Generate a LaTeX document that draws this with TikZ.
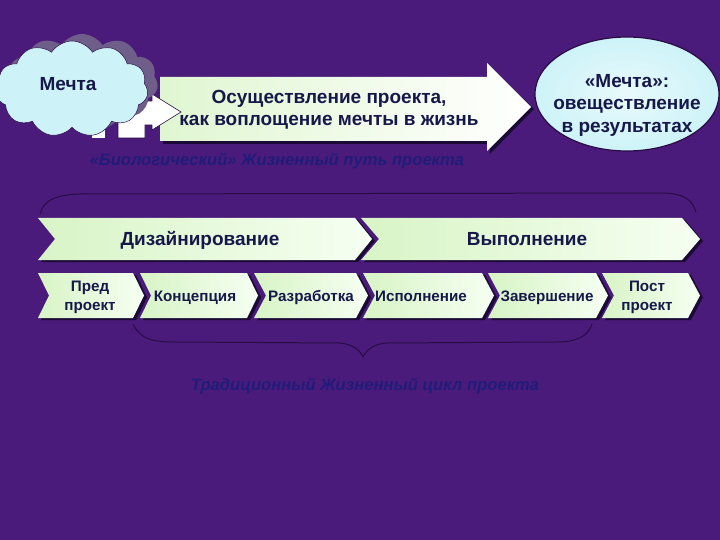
\documentclass[tikz,border=0pt]{standalone}
\usepackage{fontspec}
\setmainfont{Liberation Sans}
\usetikzlibrary{shapes.symbols,shapes.geometric}
\definecolor{bgpurple}{HTML}{4A1B7A}
\definecolor{navy}{HTML}{16184A}
\definecolor{labelblue}{HTML}{201C7A}
\definecolor{chevL}{HTML}{D8F4C6}
\definecolor{chevR}{HTML}{F6FFF2}
\definecolor{shadedark}{HTML}{1C0A36}
\definecolor{cloudfill}{HTML}{CDF3F8}
\definecolor{cloudshadow}{HTML}{705E8A}
\definecolor{braceline}{HTML}{2A0C45}
\newcommand\chevron[5]{%
  \fill[shadedark] ({#1+3},{#3+2}) -- ({#2+3},{#3+2}) -- ({#2+#5+3},{(#3+#4)/2+2}) -- ({#2+3},{#4+2}) -- ({#1+3},{#4+2}) -- ({#1+#5+3},{(#3+#4)/2+2}) -- cycle;
  \shade[left color=chevL,right color=chevR] (#1,#3) -- (#2,#3) -- ({#2+#5},{(#3+#4)/2}) -- (#2,#4) -- (#1,#4) -- ({#1+#5},{(#3+#4)/2}) -- cycle;
}
\tikzset{
  boldtxt/.style={text=navy,font=\bfseries\fontsize{19}{22.5}\selectfont,align=center,inner sep=0pt},
  onetxt/.style={text=navy,font=\bfseries\fontsize{19}{22}\selectfont,inner sep=0pt,text height=0.72em,text depth=0.2em},
  smalltxt/.style={text=navy,font=\bfseries\fontsize{15.2}{19}\selectfont,align=center,inner sep=0pt},
  smallone/.style={text=navy,font=\bfseries\fontsize{15.2}{19}\selectfont,inner sep=0pt,text height=0.72em,text depth=0.2em},
  italtxt/.style={text=labelblue,font=\bfseries\itshape\fontsize{16.6}{18}\selectfont,inner sep=0pt,text height=0.72em,text depth=0.2em},
  bracestyle/.style={draw=braceline,line width=1pt}
}
\begin{document}
\begin{tikzpicture}[x=1pt,y=-1pt]
\useasboundingbox (0,0) rectangle (720,540);
\fill[bgpurple] (0,0) rectangle (720,540);

% big arrow
\fill[shadedark] (163,80) -- (490,80) -- (490,66) -- (534,109) -- (490,154) -- (490,144) -- (163,144) -- cycle;
\shade[left color=chevL!80!white,right color=white] (160,77) -- (487,77) -- (487,63) -- (531,107) -- (487,151) -- (487,141) -- (160,141) -- cycle;
\node[boldtxt] (arrtxt) at (329,110) {Осуществление проекта,\\как воплощение мечты в жизнь};

% small striped arrow
\filldraw[fill=white,draw=braceline,line width=0.6pt] (118,101) -- (152,101) -- (152,94) -- (181,112) -- (152,130) -- (152,125) -- (145,125) -- (145,138) -- (118,138) -- cycle;
\fill[white] (92,123) rectangle (105,138);

% cloud
\node[cloud, cloud puffs=11, cloud puff arc=115, cloud ignores aspect, minimum width=152pt, minimum height=96pt, fill=cloudshadow, inner sep=0pt] (cloudsh) at (82,82) {};
\node[cloud, cloud puffs=11, cloud puff arc=115, cloud ignores aspect, minimum width=152pt, minimum height=96pt, fill=cloudfill, draw=braceline, line width=0.5pt, inner sep=0pt] (cloud) at (72,89) {};
\node[onetxt] (dream) at (68,88) {Мечта};

% ellipse
\node[ellipse, minimum width=184pt, minimum height=114pt, inner color=white!55!cloudfill, outer color=cloudfill, draw=braceline, line width=1.2pt] (result) at (627,94) {};
\node[boldtxt] (resulttxt) at (627,105) {«Мечта»:\\овеществление\\в результатах};

% label 1
\node[italtxt] (bio) at (277,163) {«Биологический» Жизненный путь проекта};

% top brace
\draw[bracestyle] (40,214) .. controls (44,200) and (55,195) .. (80,194) -- (660,193) .. controls (685,193) and (692,200) .. (696,212);

% row 1
\chevron{38}{355}{218}{260}{17}
\chevron{361}{682}{218}{260}{18}
\node[onetxt] (design) at (200,243) {Дизайнирование};
\node[onetxt] (exec) at (527,243) {Выполнение};

% row 2
\chevron{38}{133}{273}{318}{11}
\chevron{140}{247}{273}{318}{11}
\chevron{254}{356}{273}{318}{12}
\chevron{363}{482}{273}{318}{12}
\chevron{488}{596}{273}{318}{12}
\chevron{602}{688}{273}{318}{12}
\node[smalltxt] (pre) at (90,297) {Пред\\проект};
\node[smallone] (concept) at (195,299) {Концепция};
\node[smallone] (dev) at (311,299) {Разработка};
\node[smallone] (impl) at (421,299) {Исполнение};
\node[smallone] (fin) at (547,299) {Завершение};
\node[smalltxt] (post) at (647,297) {Пост\\проект};

% bottom brace
\draw[bracestyle] (133,324) .. controls (140,338) and (150,342) .. (175,342) -- (340,343) .. controls (352,344) and (360,350) .. (363,357) .. controls (366,350) and (374,344) .. (386,343) -- (555,342) .. controls (578,342) and (588,336) .. (592,324);

% label 2
\node[italtxt] (trad) at (365,388) {Традиционный Жизненный цикл проекта};
\end{tikzpicture}
\end{document}
